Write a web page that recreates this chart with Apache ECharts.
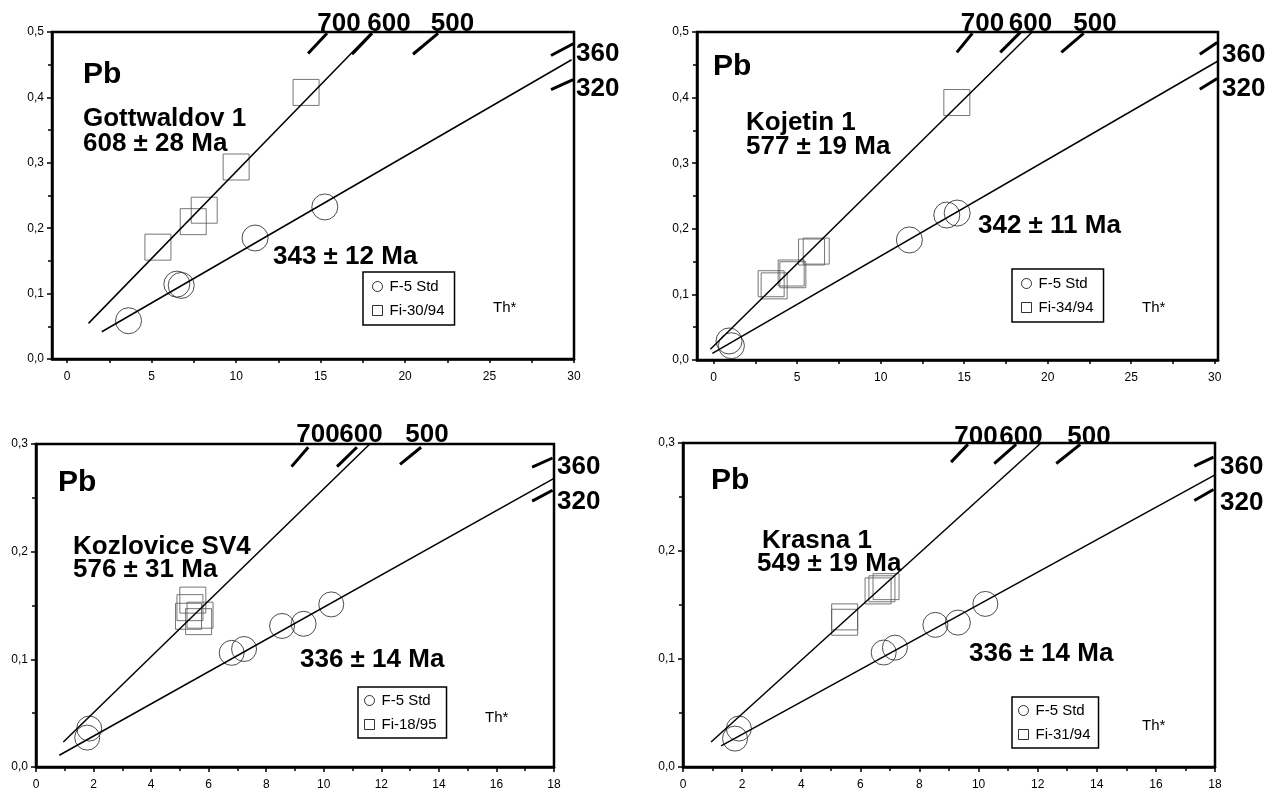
<!DOCTYPE html>
<html><head><meta charset="utf-8">
<script src="https://cdn.jsdelivr.net/npm/echarts@6/dist/echarts.min.js"></script>
<style>html,body{margin:0;padding:0;background:#fff;}#c{width:1266px;height:791px;}</style>
</head><body><div id="c"></div>
<script>
// ---------- DATA ----------
const xLabelsTop = [0, 5, 10, 15, 20, 25, 30];
const xTicksTop = [0, 2.5, 5, 7.5, 10, 12.5, 15, 17.5, 20, 22.5, 25, 27.5, 30];
const xLabelsBottom = [0, 2, 4, 6, 8, 10, 12, 14, 16, 18];
const yLabelsTop = [0, 0.1, 0.2, 0.3, 0.4, 0.5];
const yLabelsBottom = [0, 0.1, 0.2, 0.3];

// Panel 1: Gottwaldov 1
const p1Std = [[3.63,0.0585],[6.49,0.1145],[6.75,0.1125],[11.12,0.185],[15.25,0.2325]];
const p1Smp = [[5.37,0.171],[7.46,0.210],[8.11,0.2275],[10.0,0.2936],[14.14,0.4076]];
const p1LineSmp = [[1.26,0.0545],[18.03,0.4997]];
const p1LineStd = [[2.05,0.0417],[29.86,0.4576]];
const p1Marks = [[[14.26,0.467],[15.38,0.498]],[[16.86,0.466],[18.05,0.498]],[[20.47,0.466],[21.95,0.498]],[[28.64,0.464],[29.95,0.482]],[[28.64,0.412],[29.95,0.427]]];

// Panel 2: Kojetin 1
const p2Std = [[0.92,0.029],[1.06,0.0218],[11.72,0.183],[13.96,0.221],[14.58,0.224]];
const p2Smp = [[3.44,0.1163],[3.62,0.113],[4.64,0.1326],[4.74,0.130],[5.86,0.1646],[6.14,0.166],[14.56,0.3925]];
const p2LineSmp = [[-0.2,0.0163],[19.06,0.4995]];
const p2LineStd = [[-0.08,0.0102],[30.2,0.4558]];
const p2Marks = [[[14.56,0.469],[15.49,0.498]],[[17.16,0.469],[18.36,0.4995]],[[20.82,0.469],[22.15,0.498]],[[29.11,0.466],[30.15,0.484]],[[29.11,0.4127],[30.15,0.429]]];

// Panel 3: Kozlovice SV4
const p3Std = [[1.78,0.0273],[1.85,0.0357],[6.80,0.106],[7.23,0.1096],[8.55,0.131],[9.30,0.133],[10.26,0.151]];
const p3Smp = [[5.45,0.155],[5.35,0.148],[5.30,0.140],[5.70,0.141],[5.65,0.135]];
const p3LineSmp = [[0.95,0.0233],[11.6,0.3]];
const p3LineStd = [[0.81,0.0109],[18,0.268]];
const p3Marks = [[[8.88,0.279],[9.46,0.297]],[[10.46,0.279],[11.15,0.297]],[[12.65,0.281],[13.38,0.297]],[[17.24,0.2786],[17.95,0.287]],[[17.24,0.247],[17.95,0.257]]];

// Panel 4: Krasna 1
const p4Std = [[1.76,0.0263],[1.89,0.0356],[6.79,0.106],[7.17,0.1105],[8.54,0.1316],[9.30,0.1337],[10.23,0.151]];
const p4Smp = [[5.47,0.139],[5.47,0.134],[6.60,0.163],[6.73,0.165],[6.87,0.167]];
const p4LineSmp = [[0.95,0.0232],[12.11,0.3]];
const p4LineStd = [[1.29,0.0195],[18,0.2705]];
const p4Marks = [[[9.07,0.2823],[9.64,0.2987]],[[10.53,0.281],[11.27,0.2987]],[[12.63,0.281],[13.44,0.2987]],[[17.3,0.2786],[17.95,0.287]],[[17.3,0.2468],[17.95,0.257]]];

const sampleNames = ['Fi-30/94', 'Fi-34/94', 'Fi-18/95', 'Fi-31/94'];
const stdName = 'F-5 Std';

// ---------- LAYOUT / STYLE ----------
const FONT = '"Liberation Sans", Arial, Helvetica, sans-serif';
const grids = [
  {left: 52, top: 32, width: 522, height: 327},
  {left: 697, top: 32, width: 521, height: 328},
  {left: 36, top: 444, width: 518, height: 323},
  {left: 683, top: 443, width: 532, height: 324}
];
const panels = [
  {std: p1Std, smp: p1Smp, lA: p1LineSmp, lB: p1LineStd, marks: p1Marks, top: true, xmin: -0.9, xmax: 30, ymax: 0.5},
  {std: p2Std, smp: p2Smp, lA: p2LineSmp, lB: p2LineStd, marks: p2Marks, top: true, xmin: -1.0, xmax: 30.2, ymax: 0.5},
  {std: p3Std, smp: p3Smp, lA: p3LineSmp, lB: p3LineStd, marks: p3Marks, top: false, xmin: 0, xmax: 18, ymax: 0.3},
  {std: p4Std, smp: p4Smp, lA: p4LineSmp, lB: p4LineStd, marks: p4Marks, top: false, xmin: 0, xmax: 18, ymax: 0.3}
];

const xAxes = [], yAxes = [], series = [], legends = [];
panels.forEach((p, i) => {
  const lbl = {color: '#000', fontFamily: FONT, fontSize: 12};
  if (p.top) {
    xAxes.push({type: 'value', gridIndex: i, min: p.xmin, max: p.xmax,
      axisLine: {show: true, onZero: false, lineStyle: {color: '#000', width: 2.5}},
      axisTick: {show: true, customValues: xTicksTop, length: 4, lineStyle: {color: '#000', width: 1.5}},
      axisLabel: Object.assign({customValues: xLabelsTop, margin: 12, formatter: v => String(v)}, lbl),
      splitLine: {show: false}});
  } else {
    xAxes.push({type: 'value', gridIndex: i, min: 0, max: 18, interval: 2,
      axisLine: {show: true, onZero: false, lineStyle: {color: '#000', width: 2.5}},
      axisTick: {show: true, length: 5, lineStyle: {color: '#000', width: 1.5}},
      minorTick: {show: true, splitNumber: 2, length: 4, lineStyle: {color: '#000', width: 1.5}},
      axisLabel: Object.assign({customValues: xLabelsBottom, margin: 12, formatter: v => String(v)}, lbl),
      splitLine: {show: false}, minorSplitLine: {show: false}});
  }
  yAxes.push({type: 'value', gridIndex: i, min: 0, max: p.ymax, interval: 0.1,
    axisLine: {show: true, onZero: false, lineStyle: {color: '#000', width: 2.5}},
    axisTick: {show: true, length: 5, lineStyle: {color: '#000', width: 1.5}},
    minorTick: {show: true, splitNumber: 2, length: 4, lineStyle: {color: '#000', width: 1.5}},
    axisLabel: Object.assign({customValues: p.top ? yLabelsTop : yLabelsBottom, margin: 8,
      formatter: v => v.toFixed(1).replace('.', ',')}, lbl),
    splitLine: {show: false}, minorSplitLine: {show: false}});

  const base = {xAxisIndex: i, yAxisIndex: i, silent: true, animation: false};
  series.push(Object.assign({type: 'line', data: p.lA, showSymbol: false, symbol: 'none', clip: false,
    lineStyle: {color: '#000', width: 1.5}, z: 3}, base));
  series.push(Object.assign({type: 'line', data: p.lB, showSymbol: false, symbol: 'none', clip: false,
    lineStyle: {color: '#000', width: 1.5}, z: 3}, base));
  series.push(Object.assign({type: 'lines', coordinateSystem: 'cartesian2d',
    data: p.marks.map(c => ({coords: c})),
    lineStyle: {color: '#000', width: 3, opacity: 1, curveness: 0}, z: 4}, base));
  series.push(Object.assign({type: 'scatter', name: stdName, data: p.std,
    symbol: 'circle', symbolSize: p.top ? 26 : 25,
    itemStyle: {color: 'rgba(0,0,0,0)', borderColor: '#222', borderWidth: 1}, z: 2}, base));
  series.push(Object.assign({type: 'scatter', name: sampleNames[i], data: p.smp,
    symbol: 'rect', symbolSize: 26,
    itemStyle: {color: 'rgba(0,0,0,0)', borderColor: '#555', borderWidth: 1}, z: 2}, base));
});

const legendPos = [
  {left: 363, top: 272, pad: [7, 10, 7, 9]},
  {left: 1012, top: 269, pad: [7, 10, 7, 9]},
  {left: 358, top: 687, pad: [6, 10, 6, 6]},
  {left: 1012, top: 697, pad: [6, 8, 6, 6]}
];
legendPos.forEach((l, i) => {
  legends.push({left: l.left, top: l.top, orient: 'vertical', selectedMode: false,
    borderColor: '#000', borderWidth: 1.5, padding: l.pad, itemGap: 9,
    itemWidth: 10, itemHeight: 10,
    textStyle: {fontFamily: FONT, fontSize: 15, color: '#000', padding: [0, 0, 0, 2]},
    itemStyle: {color: 'rgba(0,0,0,0)', borderColor: '#000', borderWidth: 1},
    data: [{name: stdName, icon: 'circle'}, {name: sampleNames[i], icon: 'rect'}]});
});

function txt(x, y, s, size, bold, align) {
  return {type: 'text', x: x, y: y, silent: true, z: 100,
    style: {text: s, font: (bold ? 'bold ' : '') + size + 'px ' + FONT, fill: '#000',
      textAlign: align || 'left', textVerticalAlign: 'middle'}};
}
const graphics = [
  // panel 1
  txt(83, 75, 'Pb', 30, true), txt(83, 119, 'Gottwaldov 1', 26, true), txt(83, 144, '608 ± 28 Ma', 26, true),
  txt(273, 257, '343 ± 12 Ma', 26, true), txt(493, 308, 'Th*', 15, false),
  txt(339, 23.5, '700', 26, true, 'center'), txt(389, 23.5, '600', 26, true, 'center'), txt(452.5, 23.5, '500', 26, true, 'center'),
  txt(576, 54, '360', 26, true), txt(576, 89, '320', 26, true),
  // panel 2
  txt(713, 67, 'Pb', 30, true), txt(746, 123, 'Kojetin 1', 26, true), txt(746, 147, '577 ± 19 Ma', 26, true),
  txt(978, 226, '342 ± 11 Ma', 26, true), txt(1142, 308, 'Th*', 15, false),
  txt(982.5, 24, '700', 26, true, 'center'), txt(1030.5, 24, '600', 26, true, 'center'), txt(1095, 24, '500', 26, true, 'center'),
  txt(1222, 55, '360', 26, true), txt(1222, 89, '320', 26, true),
  // panel 3
  txt(58, 483, 'Pb', 30, true), txt(73, 547, 'Kozlovice SV4', 26, true), txt(73, 570, '576 ± 31 Ma', 26, true),
  txt(300, 660, '336 ± 14 Ma', 26, true), txt(485, 718, 'Th*', 15, false),
  txt(318, 435, '700', 26, true, 'center'), txt(361, 435, '600', 26, true, 'center'), txt(427, 435, '500', 26, true, 'center'),
  txt(557, 467, '360', 26, true), txt(557, 502, '320', 26, true),
  // panel 4
  txt(711, 481, 'Pb', 30, true), txt(762, 541, 'Krasna 1', 26, true), txt(757, 564, '549 ± 19 Ma', 26, true),
  txt(969, 654, '336 ± 14 Ma', 26, true), txt(1142, 726, 'Th*', 15, false),
  txt(976, 436.5, '700', 26, true, 'center'), txt(1021, 436.5, '600', 26, true, 'center'), txt(1089, 436.5, '500', 26, true, 'center'),
  txt(1220, 467, '360', 26, true), txt(1220, 503, '320', 26, true)
];

const chart = echarts.init(document.getElementById('c'), null, {renderer: 'canvas'});
chart.setOption({
  animation: false,
  backgroundColor: '#fff',
  grid: grids.map(g => Object.assign({show: true, borderColor: '#000', borderWidth: 2.5, backgroundColor: 'transparent', containLabel: false}, g)),
  xAxis: xAxes,
  yAxis: yAxes,
  legend: legends,
  series: series,
  graphic: graphics
});
</script></body></html>
